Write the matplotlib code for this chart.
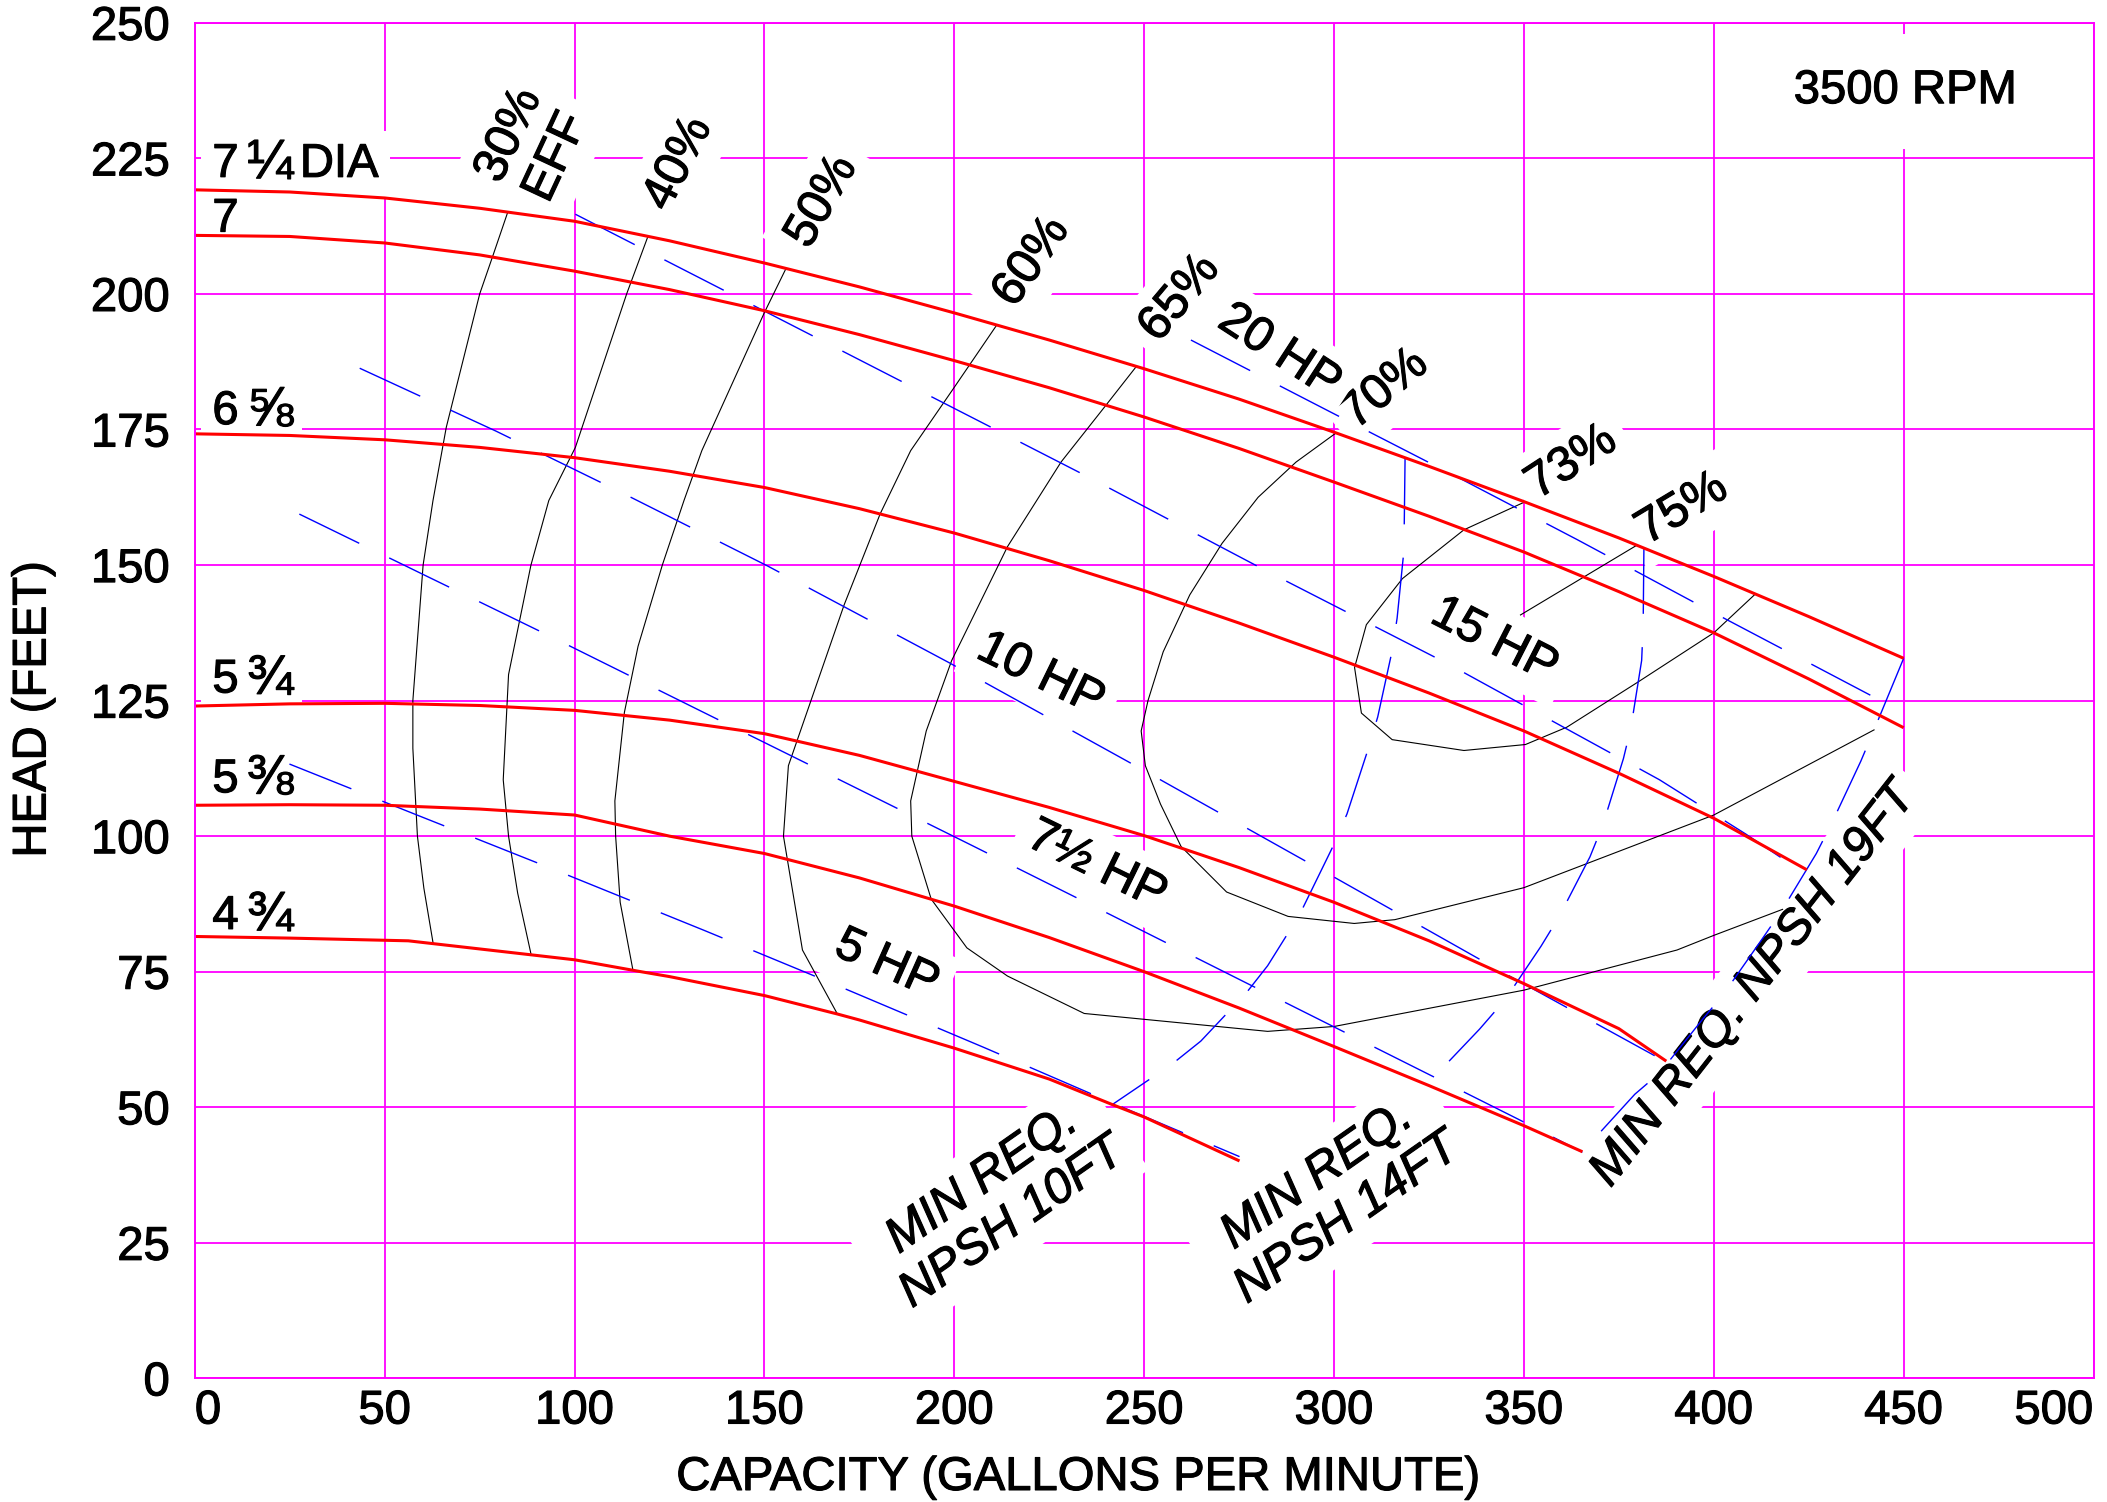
import matplotlib
matplotlib.use('Agg')
import matplotlib.pyplot as plt
import matplotlib.patheffects as pe

plt.rcParams['font.family'] = ['Liberation Sans', 'DejaVu Sans']

MAGENTA = '#ff00ff'
HEAVY = [pe.withStroke(linewidth=0.8, foreground='black')]

# impeller diameter curves: head (ft) against capacity (gpm)
cap = [0, 25, 50, 75, 100, 125, 150, 175, 200, 225, 250, 275, 300, 325, 350, 375, 400, 425, 450]
head_7_25 = [219.2, 218.8, 217.7, 215.8, 213.4, 209.8, 205.7, 201.3, 196.5, 191.5, 186.2, 180.6,
             174.5, 168.2, 161.7, 155.0, 147.9, 140.5, 132.8]
head_7 = [210.8, 210.6, 209.4, 207.2, 204.2, 200.8, 196.9, 192.5, 187.7, 182.7, 177.3, 171.5,
          165.3, 159.0, 152.4, 145.1, 137.5, 129.0, 120.0]
cap_6_58 = [0, 25, 50, 75, 100, 125, 150, 175, 200, 225, 250, 275, 300, 325, 350, 375, 400, 424.5]
head_6_58 = [174.2, 173.9, 173.1, 171.7, 169.8, 167.3, 164.3, 160.4, 155.9, 150.8, 145.3, 139.3,
             133.0, 126.4, 119.4, 111.6, 103.3, 93.8]
cap_5_34 = [0, 25, 50, 75, 100, 125, 150, 175, 200, 225, 250, 275, 300, 325, 350, 375, 387.5]
head_5_34 = [124.0, 124.4, 124.5, 124.1, 123.2, 121.4, 118.9, 114.9, 110.1, 105.3, 100.1, 94.2,
             87.8, 80.7, 72.8, 64.5, 58.5]
cap_5_38 = [0, 25, 50, 75, 100, 125, 150, 175, 200, 225, 250, 275, 300, 325, 350, 365.4]
head_5_38 = [105.7, 105.8, 105.7, 105.0, 103.9, 100.0, 96.8, 92.3, 87.1, 81.3, 75.0, 68.3,
             61.2, 54.0, 46.6, 41.8]
cap_4_34 = [0, 25, 50, 56.2, 75, 100, 117.5, 125, 150, 169.2, 175, 200, 225, 241.6, 250, 275.1]
head_4_34 = [81.5, 81.2, 80.8, 80.7, 79.2, 77.2, 75.0, 74.1, 70.6, 67.2, 66.1, 60.9, 55.2,
             50.5, 48.2, 40.1]

# diameter labels: whole part, fraction, baseline head
dia_whole = ['7', '7', '6', '5', '5', '4']
dia_frac = ['¼', '', '⅝', '¾', '⅜', '¾']
dia_base = [221.6, 211.5, 176.0, 126.5, 108.1, 82.9]

# efficiency contours
eff30_x = [82.3, 78.5, 75.0, 66.2, 62.7, 60.1, 57.4, 57.4, 58.6, 60.3, 62.7]
eff30_y = [214.9, 207.1, 200.0, 175.4, 161.9, 150.0, 125.0, 116.2, 100.0, 90.4, 80.4]
eff40_x = [119.3, 113.7, 100.2, 93.2, 88.5, 82.6, 81.2, 82.6, 85.0, 88.5]
eff40_y = [210.6, 200.0, 171.7, 161.9, 150.0, 129.8, 110.4, 100.0, 89.5, 78.3]
eff50_x = [155.6, 150.0, 133.5, 128.8, 123.1, 116.7, 113.1, 110.6, 110.8, 112.0, 115.3]
eff50_y = [204.6, 196.6, 171.1, 161.9, 150.0, 135.0, 122.8, 106.5, 100.0, 87.8, 75.5]
eff60_x = [211.1, 200.0, 188.5, 180.5, 171.0, 156.3, 155.0, 160.0, 169.2]
eff60_y = [194.2, 182.8, 171.1, 159.5, 142.7, 113.0, 100.0, 79.0, 67.2]
eff65_x = [247.9, 239.5, 228.1, 214.0, 199.3, 192.6, 188.5, 188.8, 193.9, 203.3, 214.0, 234.2,
           282.5, 300.0, 350.0, 390.3, 400.0, 418.1]
eff65_y = [186.6, 179.1, 169.0, 153.4, 132.4, 119.4, 106.5, 100.0, 88.4, 79.4, 74.2, 67.3,
           64.0, 64.9, 71.6, 79.0, 81.7, 86.5]
eff70_x = [300.6, 290.0, 280.0, 270.5, 262.0, 255.0, 251.0, 249.2, 250.3, 254.3, 259.7, 271.7,
           287.9, 305.3, 316.0, 350.0, 400.0, 442.2]
eff70_y = [174.4, 169.0, 162.5, 154.0, 144.5, 134.0, 125.0, 119.4, 113.0, 105.9, 98.1, 89.7,
           85.2, 83.9, 84.6, 90.5, 103.9, 119.6]
eff73_x = [350.1, 334.2, 318.0, 308.5, 305.4, 307.2, 315.3, 334.2, 350.4, 361.3, 380.2, 400.0, 410.7]
eff73_y = [161.6, 156.5, 147.5, 139.0, 131.1, 122.7, 117.8, 115.8, 116.9, 120.1, 128.5, 137.5, 144.5]
eff75_x = [379.6, 349.1]
eff75_y = [153.6, 140.8]

# horsepower lines
hp20_x = [262.3, 298.3, 334.2, 364.0, 397.8, 447.2]
hp20_y = [191.5, 178.5, 165.6, 154.7, 142.0, 123.8]
hp15_x = [100.2, 139.5, 187.4, 235.1, 282.5, 330.2, 385.7, 408.4, 424.2]
hp15_y = [214.7, 200.6, 183.4, 166.3, 148.8, 131.7, 110.4, 100.4, 93.0]
hp10_x = [43.4, 79.3, 111.4, 150.9, 198.6, 245.6, 298.6, 344.4, 388.1]
hp10_y = [186.3, 174.7, 163.7, 149.8, 132.0, 113.8, 93.0, 74.9, 58.1]
hp7_x = [27.5, 60.3, 92.6, 132.6, 164.6, 204.6, 236.6, 276.4, 308.6, 348.5, 365.4]
hp7_y = [159.4, 148.2, 137.2, 123.3, 112.2, 98.3, 87.1, 73.1, 61.8, 47.8, 41.7]
hp5_x = [24.9, 59.2, 92.6, 134.2, 167.0, 207.9, 241.6, 275.1]
hp5_y = [113.3, 103.7, 94.4, 82.6, 73.1, 61.0, 50.8, 40.9]

# minimum required NPSH lines
npsh10_x = [318.7, 318.4, 316.6, 315.3, 311.5, 308.9, 303.4, 299.7, 290.9, 282.5, 277.0, 264.9, 257.4, 241.6]
npsh10_y = [169.8, 152.7, 140.2, 134.2, 122.0, 115.9, 104.1, 98.1, 85.5, 76.1, 71.2, 62.2, 58.0, 50.5]
npsh14_x = [381.6, 381.4, 381.0, 378.2, 376.2, 370.8, 367.4, 359.3, 354.5, 345.0, 338.3, 324.3]
npsh14_y = [153.3, 138.8, 132.4, 120.1, 114.3, 102.1, 96.2, 85.2, 79.7, 69.8, 64.4, 54.1]
npsh19_x = [450.0, 442.2, 438.7, 431.2, 427.0, 418.1, 412.7, 402.7, 396.8, 385.7, 379.2, 365.4]
npsh19_y = [132.8, 119.6, 113.8, 102.6, 96.8, 86.5, 81.0, 71.0, 66.0, 56.3, 52.4, 41.8]

x_ticks = list(range(0, 501, 50))
y_ticks = list(range(0, 251, 25))

fig = plt.figure(figsize=(21.07, 15.02), dpi=100)
ax = fig.add_axes([0.0925, 0.0823, 0.9011, 0.9025])
ax.set_xlim(0, 500)
ax.set_ylim(0, 250)
ax.set_xticks(x_ticks)
ax.set_yticks(y_ticks)
ax.grid(True, color=MAGENTA, lw=1.3, zorder=0)
ax.set_axisbelow(True)
for sp in ax.spines.values():
    sp.set_color(MAGENTA)
    sp.set_linewidth(1.4)
    sp.set_zorder(6)
ax.tick_params(length=0, labelsize=34)
ax.tick_params(axis='x', pad=8)
ax.tick_params(axis='y', pad=18)
xl = ax.get_xticklabels()
xl[0].set_ha('left')
xl[-1].set_ha('right')
for t in ax.get_xticklabels() + ax.get_yticklabels():
    t.set_path_effects(HEAVY)

red = dict(color='#ff0000', lw=2.2, zorder=4, solid_capstyle='butt')
ax.plot(cap, head_7_25, **red)
ax.plot(cap, head_7, **red)
ax.plot(cap_6_58, head_6_58, **red)
ax.plot(cap_5_34, head_5_34, **red)
ax.plot(cap_5_38, head_5_38, **red)
ax.plot(cap_4_34, head_4_34, **red)

blk = dict(color='black', lw=0.8, zorder=3)
for ex, ey in [(eff30_x, eff30_y), (eff40_x, eff40_y), (eff50_x, eff50_y), (eff60_x, eff60_y),
               (eff65_x, eff65_y), (eff70_x, eff70_y), (eff73_x, eff73_y), (eff75_x, eff75_y)]:
    ax.plot(ex, ey, **blk)

blue = dict(color='#0000ff', lw=1.0, zorder=3, ls=(0, (48, 24)))
for hx, hy in [(hp20_x, hp20_y), (hp15_x, hp15_y), (hp10_x, hp10_y), (hp7_x, hp7_y), (hp5_x, hp5_y),
               (npsh10_x, npsh10_y), (npsh14_x, npsh14_y), (npsh19_x, npsh19_y)]:
    ax.plot(hx, hy, **blue)


def label(x, y, s, rot=0, size=35, ha='center', style='normal', pad=0.25):
    ax.text(x, y, s, rotation=rot, rotation_mode='anchor', ha=ha, va='center', fontsize=size,
            style=style, zorder=2, multialignment='center', path_effects=HEAVY,
            bbox=dict(boxstyle='square,pad=%s' % pad, fc='white', ec='none'))


# diameter labels: whole number, then a larger fraction, then DIA on the top one
for i, (w, fr, yb) in enumerate(zip(dia_whole, dia_frac, dia_base)):
    ax.text(4.6, yb, w, ha='left', va='baseline', fontsize=34, zorder=2, path_effects=HEAVY,
            bbox=dict(boxstyle='square,pad=0.25', fc='white', ec='none'))
    if fr:
        ax.annotate(fr, (4.6, yb), xytext=(25, -1), textcoords='offset points', ha='left',
                    va='baseline', fontsize=40, zorder=2.2, path_effects=HEAVY,
                    bbox=dict(boxstyle='square,pad=0.15', fc='white', ec='none'))
    if i == 0:
        ax.annotate('DIA', (4.6, yb), xytext=(63, 0), textcoords='offset points', ha='left',
                    va='baseline', fontsize=34, zorder=2, path_effects=HEAVY,
                    bbox=dict(boxstyle='square,pad=0.25', fc='white', ec='none'))

# efficiency labels
label(89.0, 227.2, '30%\nEFF', rot=65)
label(127.4, 224.0, '40%', rot=63)
label(165.2, 217.0, '50%', rot=60)
label(220.4, 205.9, '60%', rot=55)
label(259.4, 199.2, '65%', rot=50)
label(313.4, 182.4, '70%', rot=40)
label(362.6, 168.9, '73%', rot=33)
label(391.7, 160.3, '75%', rot=31)

# horsepower labels
label(285.6, 189.3, '20 HP', rot=-33)
label(342.2, 136.0, '15 HP', rot=-27)
label(222.7, 129.7, '10 HP', rot=-26)
label(237.5, 94.5, '7½ HP', rot=-26)
label(182.2, 76.3, '5 HP', rot=-24)

# NPSH labels
label(211.3, 32.6, 'MIN REQ.\nNPSH 10FT', rot=35, style='italic')
label(299.5, 33.4, 'MIN REQ.\nNPSH 14FT', rot=35, style='italic')
label(410.5, 72.6, 'MIN REQ. NPSH 19FT', rot=52, style='italic')

label(450.5, 237.4, '3500 RPM', size=34, pad=0.75)

fig.text(0.5117, 0.016, 'CAPACITY (GALLONS PER MINUTE)', ha='center', va='center', fontsize=34,
         path_effects=HEAVY)
fig.text(0.0159, 0.5277, 'HEAD (FEET)', ha='center', va='center', rotation=90, fontsize=34,
         path_effects=HEAVY)

fig.savefig('out.png', dpi=100)
